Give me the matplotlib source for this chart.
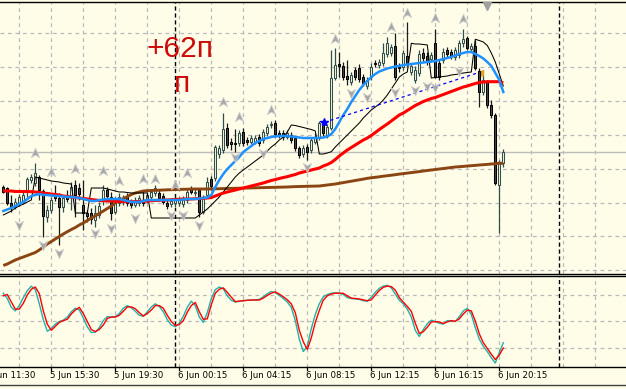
import matplotlib
matplotlib.use('Agg')
import matplotlib.pyplot as plt
from matplotlib.path import Path
from matplotlib.lines import Line2D
import matplotlib.transforms as mtransforms

# ---------------- data (price in chart units, bar index on x) ----------------
bars = list(range(126))
opens = [88.3, 87, 72, 68, 72, 73, 85, 95, 92, 98, 84, 58, 65, 80, 77, 68, 78, 79, 90, 87,
         70, 62, 62, 55, 60, 75, 85, 78, 63, 72, 73, 79, 73, 70, 72, 75, 75, 78, 82, 82,
         79, 72, 71, 72, 72, 71, 75, 86, 82, 85, 63, 80, 96, 97, 121, 125, 147, 133, 132, 132,
         143, 135, 133, 133, 138, 135, 142, 150, 152, 142, 142, 138, 140, 137, 127, 121, 128, 125, 133, 138,
         152, 140, 147, 197, 211, 209, 199, 193, 205, 207, 198, 189, 198, 212, 210, 212, 221, 222, 229, 208,
         208, 219, 203, 195, 202, 222, 219, 216, 232, 212, 215, 225, 223, 218, 220, 232, 237, 226, 229, 204,
         183, 193, 170, 160, 90, 112]
highs = [90, 88.3, 80, 77, 81, 83, 98, 101, 112, 100, 86, 70, 78, 90, 82, 80, 85, 93, 95, 92,
         95, 65, 67, 70, 73, 90, 88, 83, 78, 82, 80, 82, 76, 78, 80, 85, 83, 86, 90, 85,
         82, 75, 77, 78, 78, 79, 87, 89, 86, 87, 80, 98, 99, 130, 130, 162, 152, 137, 146, 145,
         147, 138, 140, 140, 141, 146, 151, 154, 155, 145, 145, 145, 143, 139, 129, 130, 131, 138, 142, 154,
         155, 151, 225, 227, 223, 213, 215, 203, 208, 211, 201, 198, 212, 215, 216, 232, 238, 231, 242, 212,
         225, 253, 212, 209, 225, 227, 223, 223, 246, 215, 227, 228, 226, 228, 235, 246, 239, 232, 235, 207,
         205, 195, 175, 162, 115, 126]
lows = [82, 70, 63, 66, 69, 71, 78, 92, 89, 75, 38, 53, 62, 74, 30, 63, 73, 65, 58, 75,
        45, 53, 51, 48, 57, 70, 75, 55, 61, 69, 70, 69, 67, 68, 69, 69, 72, 75, 79, 74,
        71, 66, 68, 68, 69, 68, 72, 81, 79, 58, 61, 78, 85, 94, 117, 122, 127, 125, 123, 129,
        129, 130, 131, 131, 129, 132, 139, 147, 138, 137, 135, 136, 132, 124, 117, 118, 115, 122, 131, 135,
        139, 137, 145, 195, 198, 195, 190, 190, 195, 193, 189, 186, 195, 208, 207, 209, 218, 219, 195, 203,
        205, 209, 200, 192, 199, 214, 210, 213, 197, 195, 212, 218, 216, 215, 217, 228, 225, 223, 205, 168,
        180, 167, 157, 90, 42, 108]
closes = [83.3, 72, 68, 73, 78, 80, 96, 98, 102, 85, 59, 65, 75, 77, 68, 77, 76, 88, 80, 81,
          62, 59, 56, 62, 69, 85, 79, 62, 75, 78, 76, 72, 70, 75, 77, 72, 80, 83, 87, 77,
          73, 69, 74, 75, 75, 75, 83, 83, 83, 63, 78, 93, 89, 128, 127, 146, 130, 131, 131, 142,
          132, 133, 137, 137, 132, 143, 148, 151, 141, 140, 138, 142, 135, 127, 120, 127, 123, 135, 138, 152,
          142, 148, 197, 210, 209, 198, 196, 200, 198, 196, 192, 195, 208, 211, 213, 222, 232, 228, 198, 207,
          222, 212, 209, 205, 221, 217, 213, 220, 198, 198, 223, 221, 219, 225, 232, 236, 227, 229, 207, 183,
          195, 170, 160, 92, 112, 122.7]

ma_fast = [64, 65.5, 67, 69, 71, 73, 76, 79, 80, 81, 80, 80, 79.5, 79, 79, 78.5, 78, 78, 77.5, 77,
           76, 75, 74, 74, 75, 75.5, 76, 76, 76, 76, 75, 74, 73, 73, 73, 74, 75, 75, 75, 75,
           75, 75, 75, 75, 75, 75.5, 76, 76, 76, 76.5, 77, 77.5, 80, 88, 95, 101, 106, 110, 114, 118,
           123, 126, 129, 132, 134, 136, 137, 138, 138.5, 139, 139, 139, 138.5, 138, 137.5, 137, 137, 137, 137, 137,
           137.5, 138.5, 141, 146, 153, 160, 166, 173, 179, 185, 190, 194, 198, 201, 203.5, 205, 206.5, 207.5, 208.5, 209,
           210, 210.5, 211, 211.5, 212, 212.5, 213, 213.5, 214, 215, 216, 217, 218, 219.5, 221, 222, 223, 223, 221, 219,
           216.5, 213, 209, 202, 195, 183]
ma_mid = [84, 84, 84, 83.5, 83.5, 83.5, 83.5, 83.3, 83, 82.5, 82, 81.5, 81, 80.5, 80, 79, 78.5, 78, 77.5, 77,
          76.5, 76, 75.5, 75, 74.5, 74.3, 74, 74, 73.7, 73.5, 73.5, 73.3, 73.3, 73.3, 73.5, 73.7, 74, 74.3, 74.5, 74.7,
          75, 75, 75.3, 75.5, 75.7, 76, 76, 76, 76.3, 76.5, 76.7, 77, 77.5, 79, 80.5, 82, 83, 84, 85, 86,
          87, 88, 89, 90, 91, 92, 93.3, 94.5, 95.5, 96.5, 97.5, 98.3, 99.5, 100.5, 102, 103, 104, 105, 106, 107,
          109, 110.5, 112.5, 115.5, 119, 122, 125, 127.5, 130, 132.5, 135, 137, 139.5, 142.5, 145.5, 148.3, 151, 154, 157, 160,
          162, 164.5, 167, 169.5, 171.5, 173.5, 175, 176.5, 177.5, 179, 180.5, 182, 183.5, 185, 186.5, 188, 189, 190.3, 191.5, 192.5,
          193, 193.3, 193.3, 193.3, 193.3, 192.3]
ma_slow = [9.5, 11, 13, 15, 16.5, 18, 19.5, 21, 22.5, 25, 28, 31, 33.5, 36, 38.5, 41, 43.3, 45.5, 47.5, 50,
           52, 54.5, 57, 59, 61.5, 64, 66.5, 69, 72, 74.5, 76.5, 78.3, 80.5, 82, 83, 84, 84.3, 84.5, 84.7, 84.8,
           85, 85.2, 85.3, 85.5, 85.6, 85.7, 85.8, 85.9, 86, 86, 86, 86, 86.1, 86.2, 86.3, 86.4, 86.5, 86.6, 86.7, 86.8,
           86.9, 87, 87.1, 87.2, 87.3, 87.4, 87.5, 87.6, 87.7, 87.8, 87.9, 88, 88.2, 88.4, 88.5, 88.6, 88.7, 88.8, 88.9, 89,
           89.5, 90, 90.5, 91, 91.7, 92.4, 93.1, 93.8, 94.5, 95.2, 95.9, 96.7, 97.2, 97.7, 98.2, 98.8, 99.3, 99.8, 100.3, 100.9,
           101.4, 101.9, 102.4, 102.9, 103.4, 104, 104.5, 105, 105.5, 106, 106.5, 107, 107.5, 108, 108.3, 108.6, 109, 109.3, 109.6, 110,
           110.3, 110.6, 111, 111.3, 111.7, 111.7]
channel = [60, 62, 64, 67, 69, 71, 73, 75, 98, 97, 96, 95, 94, 93.5, 93, 92, 91.5, 91, 62, 62,
           62, 62, 87, 87, 87, 87, 86, 85, 84, 83, 83, 82.5, 82, 82, 82, 82, 82, 57, 57, 57,
           57, 57, 57, 57, 57, 57, 57, 57, 57, 60, 63, 66, 70, 74, 78, 83, 88, 93, 98, 102,
           105, 108, 111, 114, 117, 120, 124, 128, 131, 135, 138, 143, 150, 149.5, 148.5, 147.5, 146.5, 145.5, 144, 121,
           121, 122, 123.3, 128, 132, 136, 140, 144, 148, 152, 157, 161, 165, 168, 171, 175, 180, 186, 192, 198,
           201, 203, 231.7, 231, 231, 230.5, 230, 197, 197.5, 198, 198.5, 199, 200, 200.5, 201, 202, 202.5, 203, 235.7, 234.5,
           233, 229.5, 222, 213, 201, 189]

fractal_up_bars = [8, 12, 18, 25, 29, 35, 38, 43, 46, 55, 59, 67, 83, 97, 101, 108, 115]
fractal_up_levels = [122.3, 102.7, 106, 104.3, 94, 95.7, 95.7, 90, 101.7, 173.3, 158.3, 165,
                     235.7, 248.3, 262.3, 256.7, 255.7]
fractal_dn_bars = [4, 10, 14, 23, 27, 33, 42, 45, 49, 58, 65, 76, 87, 91, 98, 103, 106, 108, 114]
fractal_dn_levels = [50, 30, 21.7, 41.7, 46.7, 56.7, 60, 60, 50, 118, 122.3, 108, 181.7, 178.3,
                     183.3, 185, 189, 187.7, 204.3]

trend_bars = [80.25, 118.3]
trend_levels = [152.7, 201.7]
exit_bar, exit_level = 119.6, 202.5
bid_level = 122.7
price_grid = [4.7, 38.6, 72.5, 106.4, 140.3, 174.1, 208.0, 241.9]

stoch_main = [82, 76, 66, 62, 68, 77, 85, 90, 86, 70, 52, 39, 42, 47, 50, 51.5, 55, 61, 65, 63,
              54, 44, 37.5, 38, 43, 51, 55.5, 55, 55.5, 59, 65, 68, 65.5, 61.5, 57, 56, 61, 66.5, 70, 67,
              61, 52, 46, 44, 48, 56, 66, 73, 68, 55, 49, 60, 76, 86, 89, 87, 79, 74, 72, 73,
              73.5, 74, 74.3, 74.5, 75, 78, 81.5, 84, 82.5, 79.5, 76, 72, 66, 51, 30, 16, 22, 42, 58, 70,
              78, 80.5, 82, 82.5, 82, 80.5, 77, 76, 75.5, 75, 73.5, 73, 77.5, 83, 87.5, 90, 91, 88, 81, 74,
              70, 64, 55, 40, 33, 41, 47.5, 51.5, 50, 48, 47, 51, 50.5, 50, 55.5, 62, 65, 58, 43, 30,
              22, 16, 9, 3, 15, 26]
stoch_signal = [79, 80.5, 72, 64, 64, 70.6, 80, 86.5, 89, 81.5, 62, 47, 40, 44.5, 49, 51, 52.5, 58.5, 63, 66,
                59, 50, 41, 38.5, 41, 46, 53.5, 55, 55, 57, 61.5, 66.5, 66.5, 64.5, 60, 56.2, 59, 63, 68, 68,
                65, 57, 50, 45.5, 46.5, 51, 60.5, 68, 71.5, 61, 52.5, 53, 69, 82, 86.5, 88, 83, 77.5, 72.5, 73,
                73.5, 74, 74.3, 74.3, 74.3, 76.5, 79.5, 82, 83.5, 81, 78, 74.5, 70, 60, 40, 27, 18.5, 31.5, 49, 62.5,
                74.3, 79, 81, 82, 82, 81.9, 79, 76.5, 76, 75.5, 74.5, 73.5, 74.5, 80, 85, 88.7, 90, 89.5, 85.5, 77,
                72, 67, 61.5, 48, 36.5, 38.5, 43.5, 49.5, 49.8, 49.5, 47.8, 49.5, 51, 50.3, 53, 58.5, 63, 62, 50.5, 36,
                26, 19.5, 13, 7, 12, 20]
stoch_levels = [20, 50, 80]

label_bars = [-4, 12, 28, 44, 60, 76, 92, 108, 124]
time_labels = ['5 Jun 11:30', '5 Jun 15:30', '5 Jun 19:30', '6 Jun 00:15', '6 Jun 04:15',
               '6 Jun 08:15', '6 Jun 12:15', '6 Jun 16:15', '6 Jun 20:15']
grid_bars = list(range(4, 156, 8))
separator_bars = [43, 139]
shift_bar = 121
note_main, note_sub = '+62п', 'п'
note_bar_main, note_level_main = 35.7, 217.7
note_bar_sub, note_level_sub = 42.7, 183.3

# ---------------- styling ----------------
BG = '#FFFDE8'
GRID = '#B9B9B9'
W, H = 626.0, 389.0
XL = (-0.825, 155.675)

fig = plt.figure(figsize=(6.26, 3.89), dpi=100)
fig.patch.set_facecolor(BG)

ax = fig.add_axes([0, (H - 274.3) / H, 1, (274.3 - 1.5) / H])
ax2 = fig.add_axes([0, (H - 366.5) / H, 1, (366.5 - 276.3) / H])

for a in (ax, ax2):
    a.set_facecolor(BG)
    a.set_xlim(*XL)
    a.set_xticks([])
    a.set_yticks([])
    for s in ('left', 'right'):
        a.spines[s].set_visible(False)
    for s in ('top', 'bottom'):
        a.spines[s].set_color('black')
        a.spines[s].set_linewidth(1.0)
    for gb in grid_bars:
        a.axvline(gb, color=GRID, lw=0.9, ls=(0, (3, 3)), zorder=0.5)
    for sb in separator_bars:
        a.axvline(sb, color='black', lw=1.0, ls=(0, (3, 2)), zorder=0.6)

ax.set_ylim(0.7, 273.5)
ax2.set_ylim(-0.905, 101.13)

for g in price_grid:
    ax.axhline(g, color=GRID, lw=0.9, ls=(0, (3, 3)), zorder=0.5)
ax.axhline(bid_level, color='#BDBDBD', lw=1.0, zorder=0.7)

# candles
for i, o, h, l, c in zip(bars, opens, highs, lows, closes):
    bull = c >= o
    ax.vlines(i, l, h, color='#2F4F4F' if bull else '#1A1A1A', lw=0.9, zorder=2)
    lo, hi = min(o, c), max(o, c)
    ht = max(hi - lo, 0.6)
    ax.bar(i, ht, bottom=lo, width=0.52,
           color='#F7F5D6' if bull else '#454545',
           edgecolor='#2F4F4F' if bull else '#000000', lw=0.75, zorder=3)

# indicator lines
ax.plot(bars, ma_slow, color='#8B4513', lw=2.1, zorder=4, solid_capstyle='butt')
ax.plot(bars, ma_mid, color='#FF0000', lw=2.2, zorder=4.2, solid_capstyle='butt')
ax.plot(bars, channel, color='black', lw=0.75, zorder=4.1)
ax.plot(bars, ma_fast, color='#1E90FF', lw=1.8, zorder=4.3)

# trend line
ax.plot(trend_bars, trend_levels, color='#0000FF', lw=0.9, ls=(0, (2.5, 2.5)), zorder=4.4)
ax.plot([trend_bars[0]], [trend_levels[0]], marker='*', color='#0000FF', ms=6, zorder=4.5)
ax.plot([exit_bar], [exit_level], marker='|', color='#E0A020', ms=5, mew=2.2, zorder=4.5)

# fractal arrows
up_path = Path([(0, 1), (0.8, -0.8), (0, -0.3), (-0.8, -0.8), (0, 1)],
               [Path.MOVETO, Path.LINETO, Path.LINETO, Path.LINETO, Path.CLOSEPOLY])
dn_path = Path([(0, -1), (0.8, 0.8), (0, 0.3), (-0.8, 0.8), (0, -1)],
               [Path.MOVETO, Path.LINETO, Path.LINETO, Path.LINETO, Path.CLOSEPOLY])
ax.plot(fractal_up_bars, fractal_up_levels, ls='none', marker=up_path, ms=7.5,
        mfc='#A6A6A6', mec='#CFCFCF', mew=0.6, zorder=5)
ax.plot(fractal_dn_bars, fractal_dn_levels, ls='none', marker=dn_path, ms=7.5,
        mfc='#A6A6A6', mec='#CFCFCF', mew=0.6, zorder=5)

# chart shift marker
ax.plot([shift_bar], [0.985], marker='v', color='#A0A0A0', ms=5.5,
        transform=mtransforms.blended_transform_factory(ax.transData, ax.transAxes),
        clip_on=False, zorder=6)

# annotation text
ax.text(note_bar_main, note_level_main, note_main, color='#CC0A0A', fontsize=21.5,
        family=['Liberation Sans', 'DejaVu Sans'], ha='left', va='baseline', zorder=6)
ax.text(note_bar_sub, note_level_sub, note_sub, color='#CC0A0A', fontsize=21.5,
        family=['Liberation Sans', 'DejaVu Sans'], ha='left', va='baseline', zorder=6)

# stochastic sub-window
for lv in stoch_levels:
    ax2.axhline(lv, color=GRID, lw=0.9, ls=(0, (3, 3)), zorder=0.5)
ax2.plot(bars, stoch_main, color='#20B2AA', lw=1.0, zorder=3)
ax2.plot(bars, stoch_signal, color='#FF0000', lw=1.0, zorder=3.2)

# time axis
tr = mtransforms.blended_transform_factory(ax2.transData, ax2.transAxes)
for b, lab in zip(label_bars, time_labels):
    ax2.plot([b, b], [0, -0.04], color='black', lw=0.9, transform=tr, clip_on=False)
    ax2.text(b - 0.3, -0.102, lab, transform=tr, ha='left', va='center',
             fontsize=6.2, family='DejaVu Sans', color='black', clip_on=False)

fig.add_artist(Line2D([0, 1], [(H - 385) / H] * 2, color='#404040', lw=1.0))

fig.savefig('out.png', dpi=100, facecolor=BG)
